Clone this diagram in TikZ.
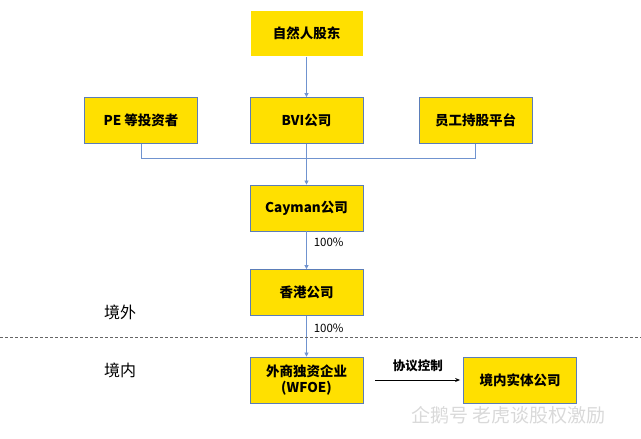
\documentclass[tikz,border=0pt]{standalone}
\usepackage{fontspec}
\setmainfont{Noto Sans CJK SC}
\usetikzlibrary{arrows.meta}
\definecolor{boxy}{HTML}{FFE000}
\definecolor{boxb}{HTML}{5B7DB8}
\definecolor{lineb}{HTML}{7093CF}
\begin{document}
\begin{tikzpicture}[x=1pt,y=-1pt,
  ent/.style={draw=boxb,line width=0.8pt,fill=boxy,minimum width=113pt,minimum height=46pt,font=\fontsize{13.5}{16}\selectfont\bfseries,align=center,inner sep=1pt},
  lnk/.style={draw=lineb,line width=0.7pt},
  arr/.style={lnk,-{Triangle[length=4pt,width=4pt]}},
  lbl/.style={font=\fontsize{11.5}{13}\selectfont,inner sep=1pt},
  side/.style={font=\fontsize{16}{18}\selectfont}]
\useasboundingbox (0,0) rectangle (641,439);
\node[ent,draw=white] (nat) at (306.5,33.5) {自然人股东};
\node[ent] (pe) at (141,120.5) {PE 等投资者};
\node[ent] (bvi) at (306.5,120.5) {BVI公司};
\node[ent] (emp) at (475.5,120.5) {员工持股平台};
\node[ent] (cay) at (306.5,208) {Cayman公司};
\node[ent] (hk) at (306.5,292.5) {香港公司};
\node[ent] (wfoe) at (306.5,380) {外商独资企业\\(WFOE)};
\node[ent] (dom) at (520,380) {境内实体公司};
\coordinate (busL) at (141,158);
\coordinate (busR) at (475.5,158);
\draw[arr] (nat.south) -- (bvi.north);
\draw[lnk] (pe.south) -- (busL) -- (busR) -- (emp.south);
\draw[arr] (bvi.south) -- (cay.north);
\draw[arr] (cay.south) -- node[lbl,pos=0.3,right=6pt] {100\%} (hk.north);
\draw[arr] (hk.south) -- node[lbl,pos=0.3,right=6pt] {100\%} (wfoe.north);
\draw[-{Stealth[length=5pt,width=4pt]},line width=0.8pt] ([xshift=12pt]wfoe.east) -- node[lbl,above=7pt,font=\fontsize{12.5}{14}\selectfont\bfseries] {协议控制} ([xshift=-3pt]dom.west);
\coordinate (dl) at (0,337);
\coordinate (dr) at (641,337);
\draw[gray!80!black,line width=0.6pt,dash pattern=on 3pt off 2pt] (dl) -- (dr);
\node[side] (out) at (120,312) {境外};
\node[side] (in) at (120,370) {境内};
\node[font=\fontsize{19}{21}\selectfont,text=gray!30,anchor=west] (wm) at (408,415) {企鹅号 老虎谈股权激励};
\end{tikzpicture}
\end{document}
